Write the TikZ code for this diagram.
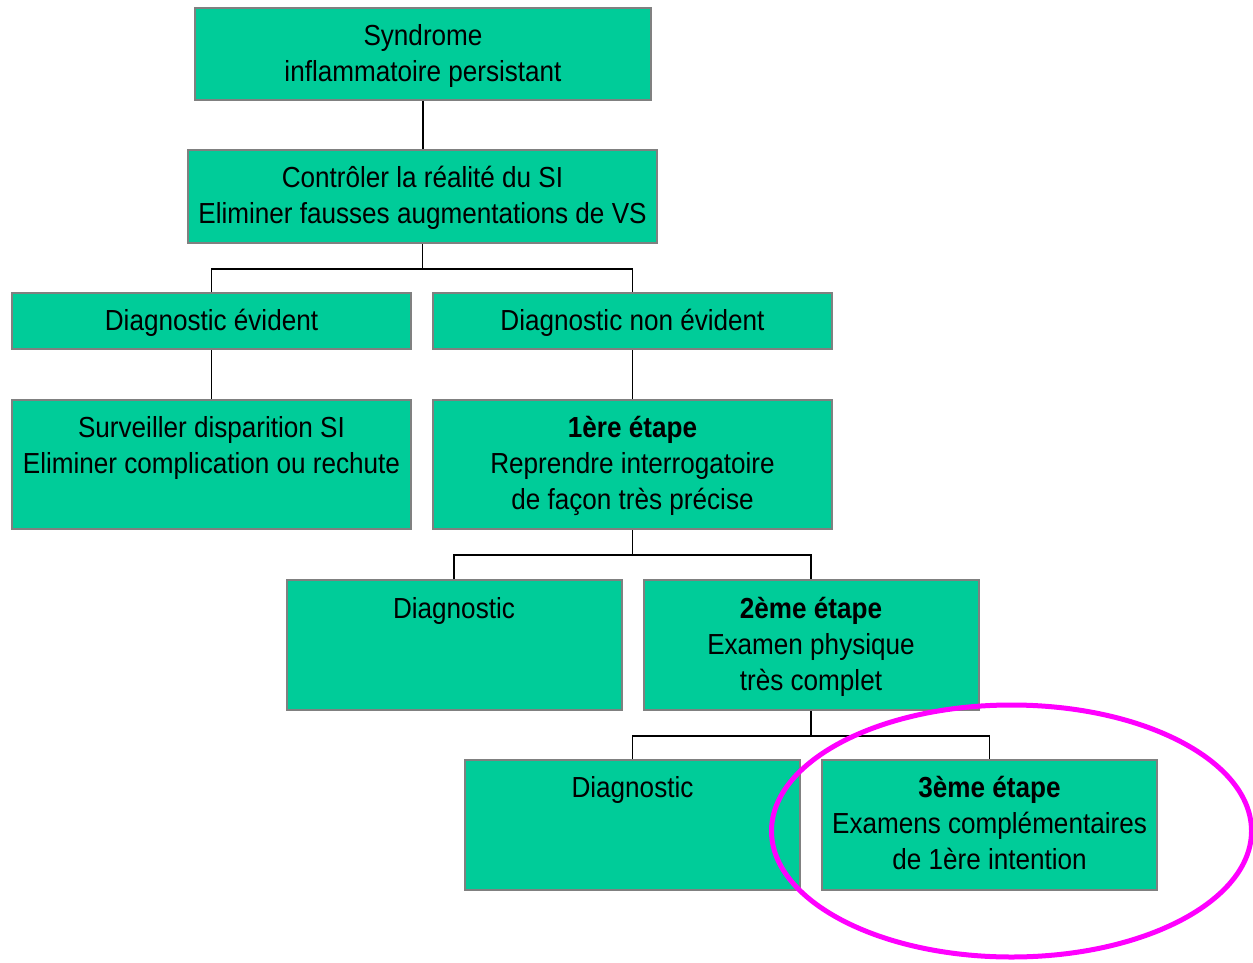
\documentclass[tikz,border=0pt]{standalone}
\usepackage{fontspec}
\setmainfont[FakeStretch=0.9]{Liberation Sans}
\definecolor{boxfill}{HTML}{00CC99}
\definecolor{boxline}{HTML}{808080}
\definecolor{ringcol}{HTML}{FF00FF}
% line strut: 36pt line, set slightly low in its box
\newcommand\ls{\rule[-8.8pt]{0pt}{36pt}}
\begin{document}
\begin{tikzpicture}[x=1pt,y=-1pt,
  box/.style={draw=boxline, line width=2pt, fill=boxfill, inner sep=0pt,
    align=center, font=\fontsize{29}{36}\selectfont},
  wide/.style={box, minimum width=399pt},
  small/.style={box, minimum width=335pt, minimum height=130pt},
  conn/.style={draw=black, line width=1.5pt},
  ring/.style={draw=ringcol, line width=5pt}]
\useasboundingbox (0,0) rectangle (1253,963);

% boxes of the decision tree
\node[box, minimum width=456pt, minimum height=92pt] (b1) at (423,54)
  {\ls Syndrome\\\ls inflammatoire persistant};
\node[box, minimum width=469pt, minimum height=93pt] (b2) at (422.5,196.5)
  {\ls Contrôler la réalité du SI\\\ls Eliminer fausses augmentations de VS};
\node[wide, minimum height=56pt] (b3) at (211.5,321) {\ls Diagnostic évident};
\node[wide, minimum height=56pt] (b4) at (632.5,321) {\ls Diagnostic non évident};
\node[wide, minimum height=129pt] (b5) at (211.5,464.5)
  {\ls Surveiller disparition SI\\\ls Eliminer complication ou rechute\\\ls};
\node[wide, minimum height=129pt] (b6) at (632.5,464.5)
  {\ls\textbf{1ère étape}\\\ls Reprendre interrogatoire\\\ls de façon très précise};
\node[small] (b7) at (454,645) {\ls Diagnostic\\\ls\\\ls};
\node[small] (b8) at (811,645)
  {\ls\textbf{2ème étape}\\\ls Examen physique\\\ls très complet};
\node[small] (b9) at (632.5,824.5) {\ls Diagnostic\\\ls\\\ls};
\node[small] (b10) at (989.5,824.5)
  {\ls\textbf{3ème étape}\\\ls Examens complémentaires\\\ls de 1ère intention};

% connectors
\draw[conn] (b1.south) -- (b1.south |- b2.north);
\draw[conn] (b2.south) -- ++(0,25) coordinate (j1);
\draw[conn] (b3.north) |- (j1) -| (b4.north);
\draw[conn] (b3.south) -- (b5.north);
\draw[conn] (b4.south) -- (b6.north);
\draw[conn] (b6.south) -- ++(0,25) coordinate (j2);
\draw[conn] (b7.north) |- (j2) -| (b8.north);
\draw[conn] (b8.south) -- ++(0,25) coordinate (j3);
\draw[conn] (b9.north) |- (j3) -| (b10.north);

% highlight of the third step
\draw[ring] (1011.5,831) ellipse [x radius=240, y radius=126];
\end{tikzpicture}
\end{document}
